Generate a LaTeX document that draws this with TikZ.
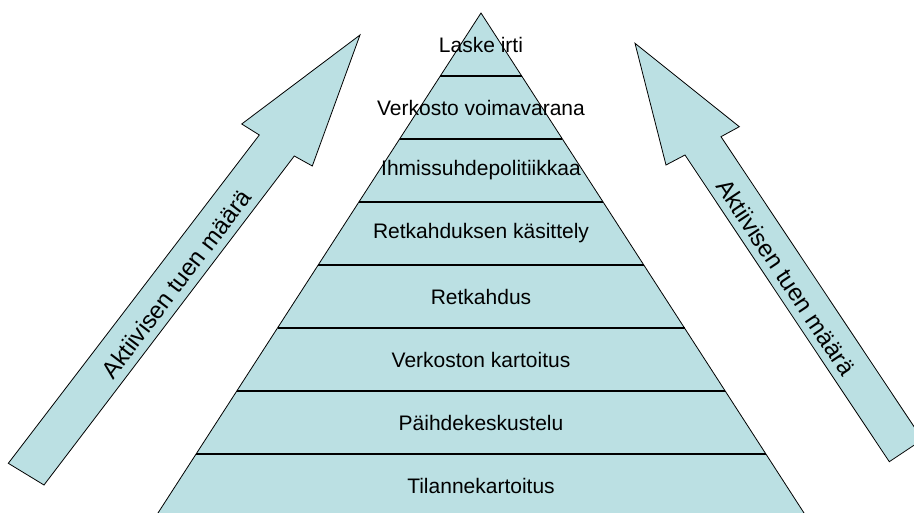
\documentclass[tikz,border=0pt]{standalone}
\usepackage{fontspec}
\setmainfont{Liberation Sans}
\definecolor{pyr}{RGB}{187,224,227}
\begin{document}
\begin{tikzpicture}[x=1pt,y=-1pt,
  lbl/.style={font=\fontsize{21}{25}\selectfont, inner sep=0pt},
  arrlbl/.style={font=\fontsize{24}{28}\selectfont, inner sep=0pt},
  shapebox/.style={fill=pyr, draw=black, line width=0.8pt, line join=miter},
  band/.style={draw=black, line width=1.3pt}]
\useasboundingbox (0,0) rectangle (914,513);
\clip (0,0) rectangle (914,513);
% pyramid
\coordinate (apex) at (481,13);
\coordinate (bl) at (155.4,517);
\coordinate (br) at (806.6,517);
\fill[pyr] (apex) -- (bl) -- (br) -- cycle;
\foreach \k in {1,...,7}
  \draw[band] ({481-40.7*\k},{13+63*\k}) -- ({481+40.7*\k},{13+63*\k});
\draw[line width=0.8pt, line join=miter] (bl) -- (apex) -- (br);
% labels
\node[lbl] (l1) at (481,44.5) {Laske irti};
\node[lbl] (l2) at (481,107.5) {Verkosto voimavarana};
\node[lbl] (l3) at (481,170.5) {Ihmissuhdepolitiikkaa};
\node[lbl] (l4) at (481,233.5) {Retkahduksen käsittely};
\node[lbl] (l5) at (481,296.5) {Retkahdus};
\node[lbl] (l6) at (481,359.5) {Verkoston kartoitus};
\node[lbl] (l7) at (481,422.5) {Päihdekeskustelu};
\node[lbl] (l8) at (481,485.5) {Tilannekartoitus};
% left arrow
\draw[shapebox] (8.3,463.3) -- (259.3,135) -- (241.7,124) -- (360,35) -- (312.3,166) -- (294.3,156) -- (44,485) -- cycle;
\node[arrlbl, rotate=52.7] (la) at (176,284) {Aktiivisen tuen määrä};
% right arrow
\draw[shapebox] (889.3,461.7) -- (685,155) -- (666,165) -- (635,43.3) -- (739.3,126.7) -- (721,136.7) -- (922.6,439.5) -- cycle;
\node[arrlbl, rotate=-56.3] (ra) at (786,277) {Aktiivisen tuen määrä};
\end{tikzpicture}
\end{document}
